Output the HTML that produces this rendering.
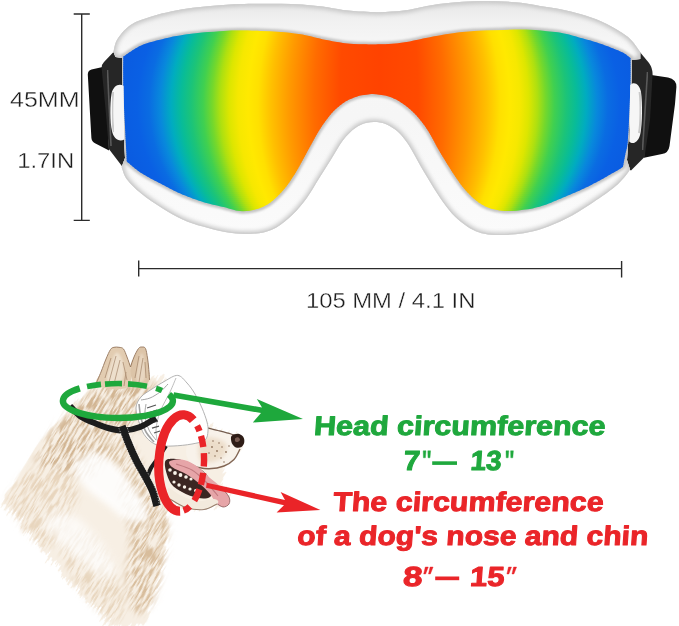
<!DOCTYPE html>
<html>
<head>
<meta charset="utf-8">
<title>Dog goggles size</title>
<style>
  html, body { margin: 0; padding: 0; background: #ffffff; }
  body { width: 679px; height: 626px; overflow: hidden; font-family: "Liberation Sans", sans-serif; }
  svg { display: block; }
  .thin { font-family: "Liberation Sans", sans-serif; fill: #1c1c1c; stroke: #ffffff; stroke-width: 0.34px; }
  .bold { font-family: "Liberation Sans", sans-serif; font-weight: bold; }
</style>
</head>
<body>
<svg width="679" height="626" viewBox="0 0 679 626">
  <defs>
    <linearGradient id="lens" gradientUnits="userSpaceOnUse" x1="-268" y1="0" x2="268" y2="0">
      <stop offset="0.0000" stop-color="#0a5ae0"/>
      <stop offset="0.0485" stop-color="#0a60e4"/>
      <stop offset="0.0709" stop-color="#0a6ce2"/>
      <stop offset="0.0914" stop-color="#0888dc"/>
      <stop offset="0.1119" stop-color="#00acc0"/>
      <stop offset="0.1306" stop-color="#08bc98"/>
      <stop offset="0.1493" stop-color="#1cc478"/>
      <stop offset="0.1716" stop-color="#40d050"/>
      <stop offset="0.1884" stop-color="#74d82c"/>
      <stop offset="0.2034" stop-color="#aee010"/>
      <stop offset="0.2201" stop-color="#dde600"/>
      <stop offset="0.2369" stop-color="#f6e800"/>
      <stop offset="0.2556" stop-color="#ffe900"/>
      <stop offset="0.2743" stop-color="#ffe000"/>
      <stop offset="0.2985" stop-color="#ffc000"/>
      <stop offset="0.3321" stop-color="#ff9a00"/>
      <stop offset="0.3787" stop-color="#ff6c00"/>
      <stop offset="0.4272" stop-color="#ff4a00"/>
      <stop offset="0.5000" stop-color="#ff4300"/>
      <stop offset="0.5728" stop-color="#ff4a00"/>
      <stop offset="0.6213" stop-color="#ff6c00"/>
      <stop offset="0.6679" stop-color="#ff9a00"/>
      <stop offset="0.7015" stop-color="#ffc000"/>
      <stop offset="0.7257" stop-color="#ffe000"/>
      <stop offset="0.7444" stop-color="#ffe900"/>
      <stop offset="0.7629" stop-color="#f6e800"/>
      <stop offset="0.7795" stop-color="#dde600"/>
      <stop offset="0.7961" stop-color="#aee010"/>
      <stop offset="0.8109" stop-color="#74d82c"/>
      <stop offset="0.8275" stop-color="#40d050"/>
      <stop offset="0.8497" stop-color="#1cc478"/>
      <stop offset="0.8681" stop-color="#08bc98"/>
      <stop offset="0.8866" stop-color="#00acc0"/>
      <stop offset="0.9069" stop-color="#0888dc"/>
      <stop offset="0.9272" stop-color="#0a6ce2"/>
      <stop offset="0.9494" stop-color="#0a60e4"/>
      <stop offset="1.0000" stop-color="#0a5ae0"/>
    </linearGradient>
    <linearGradient id="frameFill" gradientUnits="userSpaceOnUse" x1="0" y1="0" x2="0" y2="235">
      <stop offset="0" stop-color="#e6e6e6"/>
      <stop offset="0.09" stop-color="#f1f1f1"/>
      <stop offset="0.2" stop-color="#f7f7f7"/>
      <stop offset="0.5" stop-color="#f6f6f6"/>
      <stop offset="1" stop-color="#fbfbfb"/>
    </linearGradient>
    <clipPath id="lensClip"><path d="M123.3 56.5 C126.2 54.6 134.6 48.3 141.0 45.4 C147.4 42.5 155.1 40.9 162.0 39.2 C168.9 37.5 175.7 36.1 182.5 35.0 C189.3 33.9 196.1 33.3 203.0 32.6 C209.9 31.9 217.5 31.4 223.7 31.0 C229.9 30.6 233.8 30.5 240.0 30.5 C246.2 30.5 253.8 30.8 260.6 31.0 C267.4 31.2 274.1 31.4 281.0 32.0 C287.9 32.6 295.1 33.4 302.0 34.6 C308.9 35.8 315.7 37.8 322.5 39.2 C329.3 40.6 336.1 42.0 343.0 42.9 C349.9 43.8 357.5 44.1 363.7 44.3 C369.9 44.5 373.4 44.6 380.0 44.3 C386.6 44.0 395.8 43.5 403.6 42.4 C411.4 41.3 419.1 39.2 427.0 37.7 C434.9 36.2 442.9 34.6 450.7 33.5 C458.5 32.4 466.1 31.7 474.0 31.1 C481.9 30.6 490.0 30.5 497.8 30.2 C505.6 29.9 514.0 29.4 521.0 29.5 C528.0 29.6 533.4 29.9 540.0 30.5 C546.6 31.1 553.7 31.6 560.5 32.8 C567.3 34.0 574.2 36.0 581.0 37.9 C587.8 39.8 594.6 41.6 601.4 44.0 C608.2 46.4 617.1 49.9 622.0 52.2 C626.9 54.5 629.1 57.0 630.5 58.0 C630.5 61.7 630.7 71.3 630.5 80.0 C630.3 88.7 630.0 99.7 629.5 110.0 C629.0 120.3 628.4 134.7 627.7 142.0 C627.0 149.3 626.2 149.9 625.4 154.0 C624.6 158.1 623.4 164.6 623.0 166.7 C621.5 167.7 619.2 169.5 613.7 172.6 C608.2 175.7 598.1 181.6 590.3 185.5 C582.5 189.4 574.6 192.7 566.8 196.0 C559.0 199.3 550.6 203.1 543.4 205.4 C536.2 207.7 530.2 208.9 523.7 209.8 C517.2 210.7 510.6 211.4 504.6 211.0 C498.6 210.6 492.6 209.2 487.8 207.4 C483.0 205.6 479.8 203.4 475.8 200.2 C471.8 197.0 467.8 193.0 463.8 188.2 C459.8 183.4 455.9 177.4 451.9 171.4 C447.9 165.4 444.0 159.1 440.0 152.3 C436.0 145.5 432.0 136.9 428.0 130.7 C424.0 124.5 420.0 119.4 416.0 115.0 C412.0 110.6 408.0 107.3 404.0 104.4 C400.0 101.5 396.0 99.3 392.0 97.7 C388.0 96.1 383.8 95.4 380.0 94.8 C376.2 94.2 373.5 93.9 369.3 94.3 C365.1 94.7 359.4 95.7 355.0 97.2 C350.6 98.7 347.0 100.4 343.0 103.2 C339.0 106.0 335.0 109.4 331.0 114.0 C327.0 118.6 323.0 124.3 319.0 130.7 C315.0 137.1 311.0 145.1 307.0 152.3 C303.0 159.5 299.0 167.4 295.0 173.8 C291.0 180.2 287.4 185.6 283.0 190.6 C278.6 195.6 273.5 200.6 268.7 203.8 C263.9 207.0 259.2 208.6 254.4 209.8 C249.6 211.0 245.1 211.5 240.0 211.0 C234.9 210.5 229.9 208.5 223.7 207.0 C217.5 205.5 209.9 204.0 203.0 201.9 C196.1 199.8 189.3 197.5 182.5 194.6 C175.7 191.7 168.8 187.9 161.9 184.3 C155.0 180.7 147.0 176.8 141.2 173.0 C135.3 169.2 129.2 163.5 126.8 161.6 C126.7 160.2 126.8 161.3 126.4 153.0 C126.0 144.7 124.8 123.3 124.3 112.0 C123.8 100.7 123.5 94.2 123.3 85.0 C123.1 75.8 123.3 61.2 123.3 56.5 Z"/></clipPath>
    <clipPath id="frameClip"><path d="M113.4 52.0 C114.1 49.8 114.6 43.5 117.5 39.0 C120.4 34.5 125.3 28.4 131.0 24.7 C136.7 20.9 144.7 18.7 151.5 16.5 C158.3 14.3 165.1 12.8 172.0 11.3 C178.9 9.9 185.9 8.7 192.8 7.8 C199.7 6.9 205.5 6.4 213.4 5.8 C221.3 5.2 232.1 4.4 240.0 4.1 C247.9 3.7 253.8 3.8 260.6 3.7 C267.4 3.6 274.1 3.6 281.0 3.7 C287.9 3.8 295.1 4.0 302.0 4.5 C308.9 5.0 315.7 5.7 322.5 6.6 C329.3 7.5 336.1 9.1 343.0 9.9 C349.9 10.7 357.5 11.2 363.7 11.6 C369.9 12.0 373.4 12.4 380.0 12.2 C386.6 12.0 395.8 11.6 403.6 10.6 C411.4 9.6 419.1 7.2 427.0 5.9 C434.9 4.6 442.9 3.6 450.7 2.8 C458.5 2.0 466.1 1.5 474.0 1.2 C481.9 0.9 490.0 0.9 497.8 1.2 C505.6 1.5 514.0 2.0 521.0 2.8 C528.0 3.6 533.4 4.9 540.0 6.0 C546.6 7.1 553.7 7.8 560.5 9.2 C567.3 10.6 574.2 12.2 581.0 14.3 C587.8 16.4 594.6 18.4 601.4 21.5 C608.2 24.6 616.9 29.5 622.0 32.8 C627.1 36.0 629.0 37.8 632.0 41.0 C635.0 44.2 638.9 50.3 640.3 52.2 L640.3 59 L632 60 L631 100 L627 160 L630.0 169.5 C629.2 170.6 628.1 172.9 625.4 176.0 C622.7 179.1 619.6 183.1 613.7 187.8 C607.9 192.5 598.1 199.1 590.3 204.2 C582.5 209.3 574.6 214.3 566.8 218.3 C559.0 222.3 550.6 225.8 543.4 228.3 C536.2 230.8 530.2 232.1 523.7 233.2 C517.2 234.3 510.6 234.8 504.6 235.0 C498.6 235.2 492.6 235.0 487.8 234.4 C483.0 233.8 479.8 233.0 475.8 231.3 C471.8 229.6 467.8 227.0 463.8 224.0 C459.8 221.0 455.9 217.8 451.9 213.4 C447.9 209.0 444.0 203.6 440.0 197.8 C436.0 192.0 431.6 184.6 428.0 178.6 C424.4 172.6 421.5 167.5 418.3 161.9 C415.1 156.3 411.9 149.8 408.7 145.0 C405.5 140.2 402.4 136.2 399.2 133.0 C396.0 129.8 392.8 127.8 389.6 126.0 C386.4 124.2 383.8 123.0 380.0 122.5 C376.2 122.0 371.2 121.8 367.0 122.8 C362.8 123.8 359.0 125.4 355.0 128.3 C351.0 131.2 347.0 135.1 343.0 140.3 C339.0 145.5 335.0 153.1 331.0 159.5 C327.0 165.9 323.0 172.2 319.0 178.6 C315.0 185.0 311.4 191.8 307.0 197.8 C302.6 203.8 297.9 209.6 292.7 214.6 C287.5 219.6 281.6 224.6 276.0 227.7 C270.4 230.8 265.2 232.2 259.2 233.2 C253.2 234.2 245.9 233.9 240.0 233.7 C234.1 233.5 229.9 233.0 223.7 231.8 C217.5 230.6 209.9 228.7 203.0 226.6 C196.1 224.5 189.3 222.5 182.5 219.4 C175.7 216.3 168.8 212.3 161.9 208.0 C155.0 203.7 147.0 198.4 141.2 193.6 C135.3 188.8 130.1 183.6 126.8 179.2 C123.5 174.8 122.5 169.0 121.6 167.0 L125 158 L122 100 L122 58 L115.5 57 Z"/></clipPath>
    <filter id="b05" x="-5%" y="-5%" width="110%" height="110%"><feGaussianBlur stdDeviation="0.5"/></filter>
    <filter id="b1" x="-5%" y="-5%" width="110%" height="110%"><feGaussianBlur stdDeviation="1"/></filter>
    <filter id="b2" x="-10%" y="-10%" width="120%" height="120%"><feGaussianBlur stdDeviation="2"/></filter>
    <filter id="b3" x="-10%" y="-10%" width="120%" height="120%"><feGaussianBlur stdDeviation="3"/></filter>
    <filter id="b4" x="-20%" y="-20%" width="140%" height="140%"><feGaussianBlur stdDeviation="4"/></filter>
    <filter id="fur" x="-10%" y="-10%" width="120%" height="120%">
      <feTurbulence type="fractalNoise" baseFrequency="0.16 0.10" numOctaves="3" seed="4" result="n"/>
      <feDisplacementMap in="SourceGraphic" in2="n" scale="9" xChannelSelector="R" yChannelSelector="G" result="d"/>
      <feGaussianBlur in="d" stdDeviation="0.9" result="db"/>
      <feTurbulence type="fractalNoise" baseFrequency="0.30 0.12" numOctaves="2" seed="9" result="n2"/>
      <feColorMatrix in="n2" type="matrix" values="0 0 0 0 1  0 0 0 0 1  0 0 0 0 1  0 0 0 3.2 -1.45" result="w"/>
      <feComposite in="w" in2="db" operator="in" result="wi"/>
      <feMerge><feMergeNode in="db"/><feMergeNode in="wi"/></feMerge>
    </filter>
    <filter id="furd" x="-20%" y="-20%" width="140%" height="140%">
      <feTurbulence type="fractalNoise" baseFrequency="0.16 0.10" numOctaves="3" seed="7" result="n"/>
      <feDisplacementMap in="SourceGraphic" in2="n" scale="10" xChannelSelector="R" yChannelSelector="G" result="d"/>
      <feGaussianBlur in="d" stdDeviation="1.8" result="db"/>
      <feTurbulence type="fractalNoise" baseFrequency="0.35 0.14" numOctaves="2" seed="3" result="n2"/>
      <feColorMatrix in="n2" type="matrix" values="0 0 0 0 0  0 0 0 0 0  0 0 0 0 0  0 0 0 2.6 -0.7" result="m"/>
      <feComposite in="db" in2="m" operator="in"/>
    </filter>
    <filter id="wisp" x="-10%" y="-10%" width="120%" height="120%">
      <feTurbulence type="fractalNoise" baseFrequency="0.035 0.4" numOctaves="2" seed="11" result="n"/>
      <feColorMatrix in="n" type="matrix" values="1.6 0 0 0 -0.3  0 0 0 0 0.5  0 0 0 0 0  0 0 0 0 1" result="nx"/>
      <feDisplacementMap in="SourceGraphic" in2="nx" scale="15" xChannelSelector="R" yChannelSelector="G" result="d"/>
      <feGaussianBlur in="d" stdDeviation="0.7"/>
    </filter>
    <filter id="streak" x="-10%" y="-10%" width="120%" height="120%">
      <feTurbulence type="fractalNoise" baseFrequency="0.06 0.5" numOctaves="2" seed="5" result="n"/>
      <feColorMatrix in="n" type="matrix" values="0 0 0 0 0  0 0 0 0 0  0 0 0 0 0  0 0 0 5 -2.1" result="m"/>
      <feGaussianBlur in="SourceGraphic" stdDeviation="3.5" result="sb"/>
      <feComposite in="sb" in2="m" operator="in"/>
    </filter>
    <filter id="b8" x="-20%" y="-20%" width="140%" height="140%"><feGaussianBlur stdDeviation="7"/></filter>
  </defs>

  <rect x="0" y="0" width="679" height="626" fill="#ffffff"/>

  <!-- ================= GOGGLES ================= -->
  <g id="goggles">
    <!-- straps -->
    <path d="M87.8 74.5 Q87.8 70.3 91.5 69.4 L106 66.3 L109 150.5 L95.5 143.5 Q91.7 141.8 91.4 138 Z" fill="#101010"/>
    <path d="M648 74.6 L668 77.6 Q676.6 79.5 676.4 87 L675 104 L669.5 146 Q668.5 153 662 154 L644 157.8 Z" fill="#101010"/>
    <!-- dark side frame -->
    <path d="M114 51.5 L104 62 Q101.5 64.5 101.6 68 L105.8 112 L108.9 149 L123 167.5 L131 162 L126 56 Z" fill="#262626"/>
    <path d="M639.5 51.5 L649 63 Q652.5 68 652.6 74 L650 120 L644.5 157 L631 170.5 L620 164 L628 56 Z" fill="#262626"/>
    <path d="M107.5 70 L111 146" stroke="#5a5a5a" stroke-width="1.6" fill="none" filter="url(#b05)"/>
    <path d="M647.5 72 L642.5 150" stroke="#5a5a5a" stroke-width="1.6" fill="none" filter="url(#b05)"/>
    <!-- white frame -->
    <path fill="url(#frameFill)" d="M113.4 52.0 C114.1 49.8 114.6 43.5 117.5 39.0 C120.4 34.5 125.3 28.4 131.0 24.7 C136.7 20.9 144.7 18.7 151.5 16.5 C158.3 14.3 165.1 12.8 172.0 11.3 C178.9 9.9 185.9 8.7 192.8 7.8 C199.7 6.9 205.5 6.4 213.4 5.8 C221.3 5.2 232.1 4.4 240.0 4.1 C247.9 3.7 253.8 3.8 260.6 3.7 C267.4 3.6 274.1 3.6 281.0 3.7 C287.9 3.8 295.1 4.0 302.0 4.5 C308.9 5.0 315.7 5.7 322.5 6.6 C329.3 7.5 336.1 9.1 343.0 9.9 C349.9 10.7 357.5 11.2 363.7 11.6 C369.9 12.0 373.4 12.4 380.0 12.2 C386.6 12.0 395.8 11.6 403.6 10.6 C411.4 9.6 419.1 7.2 427.0 5.9 C434.9 4.6 442.9 3.6 450.7 2.8 C458.5 2.0 466.1 1.5 474.0 1.2 C481.9 0.9 490.0 0.9 497.8 1.2 C505.6 1.5 514.0 2.0 521.0 2.8 C528.0 3.6 533.4 4.9 540.0 6.0 C546.6 7.1 553.7 7.8 560.5 9.2 C567.3 10.6 574.2 12.2 581.0 14.3 C587.8 16.4 594.6 18.4 601.4 21.5 C608.2 24.6 616.9 29.5 622.0 32.8 C627.1 36.0 629.0 37.8 632.0 41.0 C635.0 44.2 638.9 50.3 640.3 52.2 L640.3 59 L632 60 L631 100 L627 160 L630.0 169.5 C629.2 170.6 628.1 172.9 625.4 176.0 C622.7 179.1 619.6 183.1 613.7 187.8 C607.9 192.5 598.1 199.1 590.3 204.2 C582.5 209.3 574.6 214.3 566.8 218.3 C559.0 222.3 550.6 225.8 543.4 228.3 C536.2 230.8 530.2 232.1 523.7 233.2 C517.2 234.3 510.6 234.8 504.6 235.0 C498.6 235.2 492.6 235.0 487.8 234.4 C483.0 233.8 479.8 233.0 475.8 231.3 C471.8 229.6 467.8 227.0 463.8 224.0 C459.8 221.0 455.9 217.8 451.9 213.4 C447.9 209.0 444.0 203.6 440.0 197.8 C436.0 192.0 431.6 184.6 428.0 178.6 C424.4 172.6 421.5 167.5 418.3 161.9 C415.1 156.3 411.9 149.8 408.7 145.0 C405.5 140.2 402.4 136.2 399.2 133.0 C396.0 129.8 392.8 127.8 389.6 126.0 C386.4 124.2 383.8 123.0 380.0 122.5 C376.2 122.0 371.2 121.8 367.0 122.8 C362.8 123.8 359.0 125.4 355.0 128.3 C351.0 131.2 347.0 135.1 343.0 140.3 C339.0 145.5 335.0 153.1 331.0 159.5 C327.0 165.9 323.0 172.2 319.0 178.6 C315.0 185.0 311.4 191.8 307.0 197.8 C302.6 203.8 297.9 209.6 292.7 214.6 C287.5 219.6 281.6 224.6 276.0 227.7 C270.4 230.8 265.2 232.2 259.2 233.2 C253.2 234.2 245.9 233.9 240.0 233.7 C234.1 233.5 229.9 233.0 223.7 231.8 C217.5 230.6 209.9 228.7 203.0 226.6 C196.1 224.5 189.3 222.5 182.5 219.4 C175.7 216.3 168.8 212.3 161.9 208.0 C155.0 203.7 147.0 198.4 141.2 193.6 C135.3 188.8 130.1 183.6 126.8 179.2 C123.5 174.8 122.5 169.0 121.6 167.0 L125 158 L122 100 L122 58 L115.5 57 Z"/>
    <g clip-path="url(#frameClip)">
      <path d="M113.4 52.0 C114.1 49.8 114.6 43.5 117.5 39.0 C120.4 34.5 125.3 28.4 131.0 24.7 C136.7 20.9 144.7 18.7 151.5 16.5 C158.3 14.3 165.1 12.8 172.0 11.3 C178.9 9.9 185.9 8.7 192.8 7.8 C199.7 6.9 205.5 6.4 213.4 5.8 C221.3 5.2 232.1 4.4 240.0 4.1 C247.9 3.7 253.8 3.8 260.6 3.7 C267.4 3.6 274.1 3.6 281.0 3.7 C287.9 3.8 295.1 4.0 302.0 4.5 C308.9 5.0 315.7 5.7 322.5 6.6 C329.3 7.5 336.1 9.1 343.0 9.9 C349.9 10.7 357.5 11.2 363.7 11.6 C369.9 12.0 373.4 12.4 380.0 12.2 C386.6 12.0 395.8 11.6 403.6 10.6 C411.4 9.6 419.1 7.2 427.0 5.9 C434.9 4.6 442.9 3.6 450.7 2.8 C458.5 2.0 466.1 1.5 474.0 1.2 C481.9 0.9 490.0 0.9 497.8 1.2 C505.6 1.5 514.0 2.0 521.0 2.8 C528.0 3.6 533.4 4.9 540.0 6.0 C546.6 7.1 553.7 7.8 560.5 9.2 C567.3 10.6 574.2 12.2 581.0 14.3 C587.8 16.4 594.6 18.4 601.4 21.5 C608.2 24.6 616.9 29.5 622.0 32.8 C627.1 36.0 629.0 37.8 632.0 41.0 C635.0 44.2 638.9 50.3 640.3 52.2 L640.3 59 L632 60 L631 100 L627 160 L630.0 169.5 C629.2 170.6 628.1 172.9 625.4 176.0 C622.7 179.1 619.6 183.1 613.7 187.8 C607.9 192.5 598.1 199.1 590.3 204.2 C582.5 209.3 574.6 214.3 566.8 218.3 C559.0 222.3 550.6 225.8 543.4 228.3 C536.2 230.8 530.2 232.1 523.7 233.2 C517.2 234.3 510.6 234.8 504.6 235.0 C498.6 235.2 492.6 235.0 487.8 234.4 C483.0 233.8 479.8 233.0 475.8 231.3 C471.8 229.6 467.8 227.0 463.8 224.0 C459.8 221.0 455.9 217.8 451.9 213.4 C447.9 209.0 444.0 203.6 440.0 197.8 C436.0 192.0 431.6 184.6 428.0 178.6 C424.4 172.6 421.5 167.5 418.3 161.9 C415.1 156.3 411.9 149.8 408.7 145.0 C405.5 140.2 402.4 136.2 399.2 133.0 C396.0 129.8 392.8 127.8 389.6 126.0 C386.4 124.2 383.8 123.0 380.0 122.5 C376.2 122.0 371.2 121.8 367.0 122.8 C362.8 123.8 359.0 125.4 355.0 128.3 C351.0 131.2 347.0 135.1 343.0 140.3 C339.0 145.5 335.0 153.1 331.0 159.5 C327.0 165.9 323.0 172.2 319.0 178.6 C315.0 185.0 311.4 191.8 307.0 197.8 C302.6 203.8 297.9 209.6 292.7 214.6 C287.5 219.6 281.6 224.6 276.0 227.7 C270.4 230.8 265.2 232.2 259.2 233.2 C253.2 234.2 245.9 233.9 240.0 233.7 C234.1 233.5 229.9 233.0 223.7 231.8 C217.5 230.6 209.9 228.7 203.0 226.6 C196.1 224.5 189.3 222.5 182.5 219.4 C175.7 216.3 168.8 212.3 161.9 208.0 C155.0 203.7 147.0 198.4 141.2 193.6 C135.3 188.8 130.1 183.6 126.8 179.2 C123.5 174.8 122.5 169.0 121.6 167.0 L125 158 L122 100 L122 58 L115.5 57 Z" fill="none" stroke="#c6c6c6" stroke-width="5" filter="url(#b2)"/>
      <path d="M113.4 52.0 C114.1 49.8 114.6 43.5 117.5 39.0 C120.4 34.5 125.3 28.4 131.0 24.7 C136.7 20.9 144.7 18.7 151.5 16.5 C158.3 14.3 165.1 12.8 172.0 11.3 C178.9 9.9 185.9 8.7 192.8 7.8 C199.7 6.9 205.5 6.4 213.4 5.8 C221.3 5.2 232.1 4.4 240.0 4.1 C247.9 3.7 253.8 3.8 260.6 3.7 C267.4 3.6 274.1 3.6 281.0 3.7 C287.9 3.8 295.1 4.0 302.0 4.5 C308.9 5.0 315.7 5.7 322.5 6.6 C329.3 7.5 336.1 9.1 343.0 9.9 C349.9 10.7 357.5 11.2 363.7 11.6 C369.9 12.0 373.4 12.4 380.0 12.2 C386.6 12.0 395.8 11.6 403.6 10.6 C411.4 9.6 419.1 7.2 427.0 5.9 C434.9 4.6 442.9 3.6 450.7 2.8 C458.5 2.0 466.1 1.5 474.0 1.2 C481.9 0.9 490.0 0.9 497.8 1.2 C505.6 1.5 514.0 2.0 521.0 2.8 C528.0 3.6 533.4 4.9 540.0 6.0 C546.6 7.1 553.7 7.8 560.5 9.2 C567.3 10.6 574.2 12.2 581.0 14.3 C587.8 16.4 594.6 18.4 601.4 21.5 C608.2 24.6 616.9 29.5 622.0 32.8 C627.1 36.0 629.0 37.8 632.0 41.0 C635.0 44.2 638.9 50.3 640.3 52.2 L640.3 59 L632 60 L631 100 L627 160 L630.0 169.5 C629.2 170.6 628.1 172.9 625.4 176.0 C622.7 179.1 619.6 183.1 613.7 187.8 C607.9 192.5 598.1 199.1 590.3 204.2 C582.5 209.3 574.6 214.3 566.8 218.3 C559.0 222.3 550.6 225.8 543.4 228.3 C536.2 230.8 530.2 232.1 523.7 233.2 C517.2 234.3 510.6 234.8 504.6 235.0 C498.6 235.2 492.6 235.0 487.8 234.4 C483.0 233.8 479.8 233.0 475.8 231.3 C471.8 229.6 467.8 227.0 463.8 224.0 C459.8 221.0 455.9 217.8 451.9 213.4 C447.9 209.0 444.0 203.6 440.0 197.8 C436.0 192.0 431.6 184.6 428.0 178.6 C424.4 172.6 421.5 167.5 418.3 161.9 C415.1 156.3 411.9 149.8 408.7 145.0 C405.5 140.2 402.4 136.2 399.2 133.0 C396.0 129.8 392.8 127.8 389.6 126.0 C386.4 124.2 383.8 123.0 380.0 122.5 C376.2 122.0 371.2 121.8 367.0 122.8 C362.8 123.8 359.0 125.4 355.0 128.3 C351.0 131.2 347.0 135.1 343.0 140.3 C339.0 145.5 335.0 153.1 331.0 159.5 C327.0 165.9 323.0 172.2 319.0 178.6 C315.0 185.0 311.4 191.8 307.0 197.8 C302.6 203.8 297.9 209.6 292.7 214.6 C287.5 219.6 281.6 224.6 276.0 227.7 C270.4 230.8 265.2 232.2 259.2 233.2 C253.2 234.2 245.9 233.9 240.0 233.7 C234.1 233.5 229.9 233.0 223.7 231.8 C217.5 230.6 209.9 228.7 203.0 226.6 C196.1 224.5 189.3 222.5 182.5 219.4 C175.7 216.3 168.8 212.3 161.9 208.0 C155.0 203.7 147.0 198.4 141.2 193.6 C135.3 188.8 130.1 183.6 126.8 179.2 C123.5 174.8 122.5 169.0 121.6 167.0 L125 158 L122 100 L122 58 L115.5 57 Z" fill="none" stroke="#cfcfcf" stroke-width="2.2" filter="url(#b05)"/>
      <path d="M123.3 56.5 C126.2 54.6 134.6 48.3 141.0 45.4 C147.4 42.5 155.1 40.9 162.0 39.2 C168.9 37.5 175.7 36.1 182.5 35.0 C189.3 33.9 196.1 33.3 203.0 32.6 C209.9 31.9 217.5 31.4 223.7 31.0 C229.9 30.6 233.8 30.5 240.0 30.5 C246.2 30.5 253.8 30.8 260.6 31.0 C267.4 31.2 274.1 31.4 281.0 32.0 C287.9 32.6 295.1 33.4 302.0 34.6 C308.9 35.8 315.7 37.8 322.5 39.2 C329.3 40.6 336.1 42.0 343.0 42.9 C349.9 43.8 357.5 44.1 363.7 44.3 C369.9 44.5 373.4 44.6 380.0 44.3 C386.6 44.0 395.8 43.5 403.6 42.4 C411.4 41.3 419.1 39.2 427.0 37.7 C434.9 36.2 442.9 34.6 450.7 33.5 C458.5 32.4 466.1 31.7 474.0 31.1 C481.9 30.6 490.0 30.5 497.8 30.2 C505.6 29.9 514.0 29.4 521.0 29.5 C528.0 29.6 533.4 29.9 540.0 30.5 C546.6 31.1 553.7 31.6 560.5 32.8 C567.3 34.0 574.2 36.0 581.0 37.9 C587.8 39.8 594.6 41.6 601.4 44.0 C608.2 46.4 617.1 49.9 622.0 52.2 C626.9 54.5 629.1 57.0 630.5 58.0 C630.5 61.7 630.7 71.3 630.5 80.0 C630.3 88.7 630.0 99.7 629.5 110.0 C629.0 120.3 628.4 134.7 627.7 142.0 C627.0 149.3 626.2 149.9 625.4 154.0 C624.6 158.1 623.4 164.6 623.0 166.7 C621.5 167.7 619.2 169.5 613.7 172.6 C608.2 175.7 598.1 181.6 590.3 185.5 C582.5 189.4 574.6 192.7 566.8 196.0 C559.0 199.3 550.6 203.1 543.4 205.4 C536.2 207.7 530.2 208.9 523.7 209.8 C517.2 210.7 510.6 211.4 504.6 211.0 C498.6 210.6 492.6 209.2 487.8 207.4 C483.0 205.6 479.8 203.4 475.8 200.2 C471.8 197.0 467.8 193.0 463.8 188.2 C459.8 183.4 455.9 177.4 451.9 171.4 C447.9 165.4 444.0 159.1 440.0 152.3 C436.0 145.5 432.0 136.9 428.0 130.7 C424.0 124.5 420.0 119.4 416.0 115.0 C412.0 110.6 408.0 107.3 404.0 104.4 C400.0 101.5 396.0 99.3 392.0 97.7 C388.0 96.1 383.8 95.4 380.0 94.8 C376.2 94.2 373.5 93.9 369.3 94.3 C365.1 94.7 359.4 95.7 355.0 97.2 C350.6 98.7 347.0 100.4 343.0 103.2 C339.0 106.0 335.0 109.4 331.0 114.0 C327.0 118.6 323.0 124.3 319.0 130.7 C315.0 137.1 311.0 145.1 307.0 152.3 C303.0 159.5 299.0 167.4 295.0 173.8 C291.0 180.2 287.4 185.6 283.0 190.6 C278.6 195.6 273.5 200.6 268.7 203.8 C263.9 207.0 259.2 208.6 254.4 209.8 C249.6 211.0 245.1 211.5 240.0 211.0 C234.9 210.5 229.9 208.5 223.7 207.0 C217.5 205.5 209.9 204.0 203.0 201.9 C196.1 199.8 189.3 197.5 182.5 194.6 C175.7 191.7 168.8 187.9 161.9 184.3 C155.0 180.7 147.0 176.8 141.2 173.0 C135.3 169.2 129.2 163.5 126.8 161.6 C126.7 160.2 126.8 161.3 126.4 153.0 C126.0 144.7 124.8 123.3 124.3 112.0 C123.8 100.7 123.5 94.2 123.3 85.0 C123.1 75.8 123.3 61.2 123.3 56.5 Z" fill="none" stroke="#c4c4c4" stroke-width="5" filter="url(#b1)"/>
    </g>
    <!-- lens -->
    <g clip-path="url(#lensClip)" fill="url(#lens)">
      <rect x="-330" y="22" width="660" height="2.6" transform="translate(379 0) scale(0.8991 1)"/>
      <rect x="-330" y="24" width="660" height="2.6" transform="translate(379 0) scale(0.9042 1)"/>
      <rect x="-330" y="26" width="660" height="2.6" transform="translate(379 0) scale(0.9093 1)"/>
      <rect x="-330" y="28" width="660" height="2.6" transform="translate(379 0) scale(0.9141 1)"/>
      <rect x="-330" y="30" width="660" height="2.6" transform="translate(379 0) scale(0.9189 1)"/>
      <rect x="-330" y="32" width="660" height="2.6" transform="translate(379 0) scale(0.9234 1)"/>
      <rect x="-330" y="34" width="660" height="2.6" transform="translate(379 0) scale(0.9278 1)"/>
      <rect x="-330" y="36" width="660" height="2.6" transform="translate(379 0) scale(0.9321 1)"/>
      <rect x="-330" y="38" width="660" height="2.6" transform="translate(379 0) scale(0.9362 1)"/>
      <rect x="-330" y="40" width="660" height="2.6" transform="translate(379 0) scale(0.9402 1)"/>
      <rect x="-330" y="42" width="660" height="2.6" transform="translate(379 0) scale(0.9441 1)"/>
      <rect x="-330" y="44" width="660" height="2.6" transform="translate(379 0) scale(0.9478 1)"/>
      <rect x="-330" y="46" width="660" height="2.6" transform="translate(379 0) scale(0.9514 1)"/>
      <rect x="-330" y="48" width="660" height="2.6" transform="translate(379 0) scale(0.9548 1)"/>
      <rect x="-330" y="50" width="660" height="2.6" transform="translate(379 0) scale(0.9581 1)"/>
      <rect x="-330" y="52" width="660" height="2.6" transform="translate(379 0) scale(0.9613 1)"/>
      <rect x="-330" y="54" width="660" height="2.6" transform="translate(379 0) scale(0.9643 1)"/>
      <rect x="-330" y="56" width="660" height="2.6" transform="translate(379 0) scale(0.9672 1)"/>
      <rect x="-330" y="58" width="660" height="2.6" transform="translate(379 0) scale(0.9700 1)"/>
      <rect x="-330" y="60" width="660" height="2.6" transform="translate(379 0) scale(0.9726 1)"/>
      <rect x="-330" y="62" width="660" height="2.6" transform="translate(379 0) scale(0.9751 1)"/>
      <rect x="-330" y="64" width="660" height="2.6" transform="translate(379 0) scale(0.9775 1)"/>
      <rect x="-330" y="66" width="660" height="2.6" transform="translate(379 0) scale(0.9798 1)"/>
      <rect x="-330" y="68" width="660" height="2.6" transform="translate(379 0) scale(0.9819 1)"/>
      <rect x="-330" y="70" width="660" height="2.6" transform="translate(379 0) scale(0.9840 1)"/>
      <rect x="-330" y="72" width="660" height="2.6" transform="translate(379 0) scale(0.9859 1)"/>
      <rect x="-330" y="74" width="660" height="2.6" transform="translate(379 0) scale(0.9876 1)"/>
      <rect x="-330" y="76" width="660" height="2.6" transform="translate(379 0) scale(0.9893 1)"/>
      <rect x="-330" y="78" width="660" height="2.6" transform="translate(379 0) scale(0.9908 1)"/>
      <rect x="-330" y="80" width="660" height="2.6" transform="translate(379 0) scale(0.9922 1)"/>
      <rect x="-330" y="82" width="660" height="2.6" transform="translate(379 0) scale(0.9935 1)"/>
      <rect x="-330" y="84" width="660" height="2.6" transform="translate(379 0) scale(0.9947 1)"/>
      <rect x="-330" y="86" width="660" height="2.6" transform="translate(379 0) scale(0.9958 1)"/>
      <rect x="-330" y="88" width="660" height="2.6" transform="translate(379 0) scale(0.9967 1)"/>
      <rect x="-330" y="90" width="660" height="2.6" transform="translate(379 0) scale(0.9975 1)"/>
      <rect x="-330" y="92" width="660" height="2.6" transform="translate(379 0) scale(0.9982 1)"/>
      <rect x="-330" y="94" width="660" height="2.6" transform="translate(379 0) scale(0.9988 1)"/>
      <rect x="-330" y="96" width="660" height="2.6" transform="translate(379 0) scale(0.9993 1)"/>
      <rect x="-330" y="98" width="660" height="2.6" transform="translate(379 0) scale(0.9996 1)"/>
      <rect x="-330" y="100" width="660" height="2.6" transform="translate(379 0) scale(0.9999 1)"/>
      <rect x="-330" y="102" width="660" height="2.6" transform="translate(379 0) scale(1.0000 1)"/>
      <rect x="-330" y="104" width="660" height="2.6" transform="translate(379 0) scale(1.0000 1)"/>
      <rect x="-330" y="106" width="660" height="2.6" transform="translate(379 0) scale(0.9999 1)"/>
      <rect x="-330" y="108" width="660" height="2.6" transform="translate(379 0) scale(0.9996 1)"/>
      <rect x="-330" y="110" width="660" height="2.6" transform="translate(379 0) scale(0.9993 1)"/>
      <rect x="-330" y="112" width="660" height="2.6" transform="translate(379 0) scale(0.9988 1)"/>
      <rect x="-330" y="114" width="660" height="2.6" transform="translate(379 0) scale(0.9982 1)"/>
      <rect x="-330" y="116" width="660" height="2.6" transform="translate(379 0) scale(0.9975 1)"/>
      <rect x="-330" y="118" width="660" height="2.6" transform="translate(379 0) scale(0.9967 1)"/>
      <rect x="-330" y="120" width="660" height="2.6" transform="translate(379 0) scale(0.9958 1)"/>
      <rect x="-330" y="122" width="660" height="2.6" transform="translate(379 0) scale(0.9947 1)"/>
      <rect x="-330" y="124" width="660" height="2.6" transform="translate(379 0) scale(0.9935 1)"/>
      <rect x="-330" y="126" width="660" height="2.6" transform="translate(379 0) scale(0.9922 1)"/>
      <rect x="-330" y="128" width="660" height="2.6" transform="translate(379 0) scale(0.9908 1)"/>
      <rect x="-330" y="130" width="660" height="2.6" transform="translate(379 0) scale(0.9893 1)"/>
      <rect x="-330" y="132" width="660" height="2.6" transform="translate(379 0) scale(0.9876 1)"/>
      <rect x="-330" y="134" width="660" height="2.6" transform="translate(379 0) scale(0.9859 1)"/>
      <rect x="-330" y="136" width="660" height="2.6" transform="translate(379 0) scale(0.9840 1)"/>
      <rect x="-330" y="138" width="660" height="2.6" transform="translate(379 0) scale(0.9819 1)"/>
      <rect x="-330" y="140" width="660" height="2.6" transform="translate(379 0) scale(0.9798 1)"/>
      <rect x="-330" y="142" width="660" height="2.6" transform="translate(379 0) scale(0.9775 1)"/>
      <rect x="-330" y="144" width="660" height="2.6" transform="translate(379 0) scale(0.9751 1)"/>
      <rect x="-330" y="146" width="660" height="2.6" transform="translate(379 0) scale(0.9726 1)"/>
      <rect x="-330" y="148" width="660" height="2.6" transform="translate(379 0) scale(0.9700 1)"/>
      <rect x="-330" y="150" width="660" height="2.6" transform="translate(379 0) scale(0.9672 1)"/>
      <rect x="-330" y="152" width="660" height="2.6" transform="translate(379 0) scale(0.9643 1)"/>
      <rect x="-330" y="154" width="660" height="2.6" transform="translate(379 0) scale(0.9613 1)"/>
      <rect x="-330" y="156" width="660" height="2.6" transform="translate(379 0) scale(0.9581 1)"/>
      <rect x="-330" y="158" width="660" height="2.6" transform="translate(379 0) scale(0.9548 1)"/>
      <rect x="-330" y="160" width="660" height="2.6" transform="translate(379 0) scale(0.9514 1)"/>
      <rect x="-330" y="162" width="660" height="2.6" transform="translate(379 0) scale(0.9478 1)"/>
      <rect x="-330" y="164" width="660" height="2.6" transform="translate(379 0) scale(0.9441 1)"/>
      <rect x="-330" y="166" width="660" height="2.6" transform="translate(379 0) scale(0.9402 1)"/>
      <rect x="-330" y="168" width="660" height="2.6" transform="translate(379 0) scale(0.9362 1)"/>
      <rect x="-330" y="170" width="660" height="2.6" transform="translate(379 0) scale(0.9321 1)"/>
      <rect x="-330" y="172" width="660" height="2.6" transform="translate(379 0) scale(0.9278 1)"/>
      <rect x="-330" y="174" width="660" height="2.6" transform="translate(379 0) scale(0.9234 1)"/>
      <rect x="-330" y="176" width="660" height="2.6" transform="translate(379 0) scale(0.9189 1)"/>
      <rect x="-330" y="178" width="660" height="2.6" transform="translate(379 0) scale(0.9141 1)"/>
      <rect x="-330" y="180" width="660" height="2.6" transform="translate(379 0) scale(0.9093 1)"/>
      <rect x="-330" y="182" width="660" height="2.6" transform="translate(379 0) scale(0.9042 1)"/>
      <rect x="-330" y="184" width="660" height="2.6" transform="translate(379 0) scale(0.8991 1)"/>
      <rect x="-330" y="186" width="660" height="2.6" transform="translate(379 0) scale(0.8937 1)"/>
      <rect x="-330" y="188" width="660" height="2.6" transform="translate(379 0) scale(0.8882 1)"/>
      <rect x="-330" y="190" width="660" height="2.6" transform="translate(379 0) scale(0.8825 1)"/>
      <rect x="-330" y="192" width="660" height="2.6" transform="translate(379 0) scale(0.8767 1)"/>
      <rect x="-330" y="194" width="660" height="2.6" transform="translate(379 0) scale(0.8707 1)"/>
      <rect x="-330" y="196" width="660" height="2.6" transform="translate(379 0) scale(0.8645 1)"/>
      <rect x="-330" y="198" width="660" height="2.6" transform="translate(379 0) scale(0.8581 1)"/>
      <rect x="-330" y="200" width="660" height="2.6" transform="translate(379 0) scale(0.8515 1)"/>
      <rect x="-330" y="202" width="660" height="2.6" transform="translate(379 0) scale(0.8448 1)"/>
      <rect x="-330" y="204" width="660" height="2.6" transform="translate(379 0) scale(0.8378 1)"/>
      <rect x="-330" y="206" width="660" height="2.6" transform="translate(379 0) scale(0.8307 1)"/>
      <rect x="-330" y="208" width="660" height="2.6" transform="translate(379 0) scale(0.8233 1)"/>
      <rect x="-330" y="210" width="660" height="2.6" transform="translate(379 0) scale(0.8158 1)"/>
      <rect x="-330" y="212" width="660" height="2.6" transform="translate(379 0) scale(0.8080 1)"/>
      <rect x="-330" y="214" width="660" height="2.6" transform="translate(379 0) scale(0.8000 1)"/>
    </g>
    <!-- white oval tabs -->
    <path d="M123.6 86 C119 83 113 86 111.5 94 C109.8 104 110 122 112 131 C113.5 138.5 119 142.5 124.3 139.5 Z" fill="#f6f6f6"/>
    <path d="M113.2 92 C111.8 104 112 122 113.8 132" stroke="#c9c9c9" stroke-width="2" fill="none" filter="url(#b05)"/>
    <path d="M630.2 85 C634 81 639.5 84 641 92 C642.6 103 642.3 124 640.5 133 C639 141.5 633.5 145.5 629.2 141.5 Z" fill="#f6f6f6"/>
    <path d="M639.6 92 C641 104 640.7 124 639 133" stroke="#c9c9c9" stroke-width="2" fill="none" filter="url(#b05)"/>
  </g>

  <!-- ================= DIMENSION LINES ================= -->
  <g stroke="#2b2b2b" stroke-width="1.4" fill="none">
    <path d="M81.7 14 V220.4 M73.7 14 H89.8 M73.7 220.4 H89.8"/>
    <path d="M138.7 268.6 H621.6 M138.7 260.4 V276.6 M621.6 261 V277.6"/>
  </g>
  <g opacity="0.995">
  <text class="thin" x="10" y="106.6" font-size="21.5" textLength="69.5" lengthAdjust="spacingAndGlyphs">45MM</text>
  <text class="thin" x="17.2" y="168" font-size="21.5" textLength="57" lengthAdjust="spacingAndGlyphs">1.7IN</text>
  <text class="thin" x="305.9" y="307.7" font-size="21.5" textLength="169.5" lengthAdjust="spacingAndGlyphs">105 MM / 4.1 IN</text>
  </g>

  <!-- ================= DOG ================= -->
  <g id="dog">
<g transform="rotate(-58 90 500)" filter="url(#wisp)"><g transform="rotate(58 90 500)">
      <path d="M58.0 422.0 C63.7 415.5 65.7 412.3 70.0 408.0 C74.3 403.7 79.7 400.2 84.0 396.0 C88.3 391.8 91.3 385.5 96.0 383.0 C100.7 380.5 106.3 381.7 112.0 381.0 C117.7 380.3 123.9 379.5 130.0 379.0 C136.1 378.5 142.9 377.8 148.7 378.0 C154.5 378.2 158.9 376.3 165.0 380.0 C171.1 383.7 178.0 392.2 185.0 400.0 C192.0 407.8 198.5 421.0 207.0 427.0 C215.5 433.0 230.0 433.7 236.0 436.0 C242.0 438.3 242.2 438.7 243.0 441.0 C243.8 443.3 244.0 445.8 241.0 450.0 C238.0 454.2 228.2 461.0 225.0 466.0 C221.8 471.0 221.3 474.7 222.0 480.0 C222.7 485.3 228.5 493.7 229.0 498.0 C229.5 502.3 226.8 504.8 225.0 506.0 C223.2 507.2 223.2 504.5 218.0 505.0 C212.8 505.5 201.7 509.5 194.0 509.0 C186.3 508.5 176.8 501.8 172.0 502.0 C167.2 502.2 165.7 506.0 165.0 510.0 C164.3 514.0 168.4 517.3 168.0 526.0 C167.6 534.7 165.2 549.3 162.5 562.0 C159.8 574.7 154.7 591.7 151.6 602.0 C148.5 612.3 150.6 620.0 144.0 624.0 C137.4 628.0 119.8 628.5 112.0 626.0 C104.2 623.5 104.2 616.0 97.5 609.0 C90.8 602.0 80.4 593.0 72.0 584.0 C63.6 575.0 55.4 564.7 47.0 555.0 C38.6 545.3 28.9 535.0 21.7 526.0 C14.5 517.0 4.8 508.2 3.6 501.0 C2.4 493.8 9.0 492.0 14.4 483.0 C19.8 474.0 28.7 457.2 36.0 447.0 C43.3 436.8 52.3 428.5 58.0 422.0 Z" fill="#f7efe4"/>
    </g></g>
    <g transform="rotate(-58 90 500)" filter="url(#streak)"><g transform="rotate(58 90 500)">
      <path d="M58.0 424.0 C64.7 416.3 76.3 404.3 84.0 398.0 C91.7 391.7 93.0 388.3 104.0 386.0 C115.0 383.7 139.0 382.0 150.0 384.0 C161.0 386.0 168.3 392.0 170.0 398.0 C171.7 404.0 167.0 414.3 160.0 420.0 C153.0 425.7 136.0 427.7 128.0 432.0 C120.0 436.3 116.7 439.7 112.0 446.0 C107.3 452.3 104.7 464.7 100.0 470.0 C95.3 475.3 91.3 478.0 84.0 478.0 C76.7 478.0 64.0 472.7 56.0 470.0 C48.0 467.3 38.0 466.3 36.0 462.0 C34.0 457.7 40.3 450.3 44.0 444.0 C47.7 437.7 51.3 431.7 58.0 424.0 Z" fill="#d2b593"/>
      <path d="M118.0 486.0 C120.7 480.7 132.7 475.7 140.0 478.0 C147.3 480.3 157.3 491.3 162.0 500.0 C166.7 508.7 167.8 519.0 168.0 530.0 C168.2 541.0 165.7 553.7 163.0 566.0 C160.3 578.3 156.8 596.3 152.0 604.0 C147.2 611.7 138.3 616.0 134.0 612.0 C129.7 608.0 126.7 592.0 126.0 580.0 C125.3 568.0 130.3 551.7 130.0 540.0 C129.7 528.3 126.0 519.0 124.0 510.0 C122.0 501.0 115.3 491.3 118.0 486.0 Z" fill="#d8bd9c"/>
      <path d="M8.0 496.0 C10.7 488.7 21.3 474.3 30.0 470.0 C38.7 465.7 52.0 466.7 60.0 470.0 C68.0 473.3 76.3 481.7 78.0 490.0 C79.7 498.3 74.3 510.3 70.0 520.0 C65.7 529.7 58.7 545.3 52.0 548.0 C45.3 550.7 36.3 541.7 30.0 536.0 C23.7 530.3 17.7 520.7 14.0 514.0 C10.3 507.3 5.3 503.3 8.0 496.0 Z" fill="#e8d5bd"/>
      <path d="M60.0 545.0 C61.3 536.0 75.7 527.5 84.0 530.0 C92.3 532.5 103.3 548.3 110.0 560.0 C116.7 571.7 122.7 589.7 124.0 600.0 C125.3 610.3 122.0 620.0 118.0 622.0 C114.0 624.0 107.0 618.3 100.0 612.0 C93.0 605.7 82.7 595.2 76.0 584.0 C69.3 572.8 58.7 554.0 60.0 545.0 Z" fill="#e8d6be"/>
      <path d="M100.0 440.0 C102.0 435.3 117.3 430.7 124.0 434.0 C130.7 437.3 135.7 452.3 140.0 460.0 C144.3 467.7 151.3 476.3 150.0 480.0 C148.7 483.7 138.3 485.0 132.0 482.0 C125.7 479.0 117.3 469.0 112.0 462.0 C106.7 455.0 98.0 444.7 100.0 440.0 Z" fill="#dcc4a6"/>
    </g></g>
    <path d="M96.0 384.0 C94.5 381.2 99.3 376.2 101.0 372.0 C102.7 367.8 104.4 362.8 106.0 359.0 C107.6 355.2 109.2 351.4 110.5 349.5 C111.8 347.6 112.6 347.7 114.0 347.3 C115.4 346.9 117.4 347.0 119.0 347.3 C120.6 347.6 122.2 347.4 123.5 349.0 C124.8 350.6 125.8 354.0 127.0 357.0 C128.2 360.0 129.8 363.2 130.5 367.0 C131.2 370.8 131.8 376.5 131.0 380.0 C130.2 383.5 129.5 386.5 126.0 388.0 C122.5 389.5 115.0 389.7 110.0 389.0 C105.0 388.3 97.5 386.8 96.0 384.0 Z" fill="#e2ccb1" filter="url(#b05)"/>
    <path d="M130.5 367.0 C130.7 362.7 132.7 360.1 134.0 357.0 C135.3 353.9 137.2 350.2 138.5 348.5 C139.8 346.8 140.8 347.0 142.0 347.0 C143.2 347.0 144.6 346.7 145.5 348.5 C146.4 350.3 147.0 354.8 147.5 358.0 C148.0 361.2 148.4 364.3 148.7 368.0 C149.0 371.7 150.6 376.8 149.5 380.0 C148.4 383.2 144.8 386.5 142.0 387.0 C139.2 387.5 134.9 386.3 133.0 383.0 C131.1 379.7 130.3 371.3 130.5 367.0 Z" fill="#dcc4a8" filter="url(#b05)"/>
    <path d="M107.0 380.0 C105.5 376.7 109.5 368.5 111.0 364.0 C112.5 359.5 114.3 354.2 116.0 353.0 C117.7 351.8 119.7 354.2 121.0 357.0 C122.3 359.8 124.2 365.5 124.0 370.0 C123.8 374.5 122.8 382.3 120.0 384.0 C117.2 385.7 108.5 383.3 107.0 380.0 Z" fill="#efe2d0" filter="url(#b1)" opacity="0.9"/>
    <path d="M136.0 378.0 C135.8 374.5 137.5 366.2 138.5 362.0 C139.5 357.8 140.9 352.7 142.0 353.0 C143.1 353.3 144.3 359.8 144.8 364.0 C145.3 368.2 145.8 374.8 145.0 378.0 C144.2 381.2 141.5 383.0 140.0 383.0 C138.5 383.0 136.2 381.5 136.0 378.0 Z" fill="#ead9c4" filter="url(#b1)" opacity="0.9"/>
    <path d="M96.0 384.0 C96.8 382.0 99.3 376.2 101.0 372.0 C102.7 367.8 104.4 362.8 106.0 359.0 C107.6 355.2 109.2 351.4 110.5 349.5 C111.8 347.6 112.6 347.7 114.0 347.3 C115.4 346.9 117.4 347.0 119.0 347.3 C120.6 347.6 122.2 347.4 123.5 349.0 C124.8 350.6 125.8 354.0 127.0 357.0 C128.2 360.0 129.9 365.3 130.5 367.0" fill="none" stroke="#8f6f55" stroke-width="1.0" filter="url(#b05)" opacity="0.85"/>
    <path d="M130.5 367.0 C131.1 365.3 132.7 360.1 134.0 357.0 C135.3 353.9 137.2 350.2 138.5 348.5 C139.8 346.8 140.8 347.0 142.0 347.0 C143.2 347.0 144.6 346.7 145.5 348.5 C146.4 350.3 147.0 354.8 147.5 358.0 C148.0 361.2 148.4 364.3 148.7 368.0 C149.0 371.7 149.4 378.0 149.5 380.0" fill="none" stroke="#8f6f55" stroke-width="1.0" filter="url(#b05)" opacity="0.85"/>
    <path d="M105 378 L111 358 M109 382 L116 356 M114 384 L120 360 M127 380 L123 362 M124 386 L126 372 M135 378 L139 356 M139 382 L143 358 M146 378 L145 362" stroke="#9c7c60" stroke-width="0.9" fill="none" opacity="0.7" filter="url(#b05)"/>
    <path d="M74.0 466.0 C75.3 460.0 86.7 451.7 94.0 452.0 C101.3 452.3 110.3 460.7 118.0 468.0 C125.7 475.3 135.0 488.0 140.0 496.0 C145.0 504.0 149.7 511.7 148.0 516.0 C146.3 520.3 137.0 524.0 130.0 522.0 C123.0 520.0 113.3 509.7 106.0 504.0 C98.7 498.3 91.3 494.3 86.0 488.0 C80.7 481.7 72.7 472.0 74.0 466.0 Z" fill="#ffffff" filter="url(#b3)" opacity="0.85"/>
    <path d="M44.0 520.0 C45.7 515.3 57.3 509.3 66.0 512.0 C74.7 514.7 87.7 526.3 96.0 536.0 C104.3 545.7 114.7 563.0 116.0 570.0 C117.3 577.0 110.3 579.7 104.0 578.0 C97.7 576.3 86.0 566.3 78.0 560.0 C70.0 553.7 61.7 546.7 56.0 540.0 C50.3 533.3 42.3 524.7 44.0 520.0 Z" fill="#ffffff" filter="url(#b4)" opacity="0.7"/>
    <path d="M194.0 430.0 C197.7 426.0 203.3 427.7 208.0 428.0 C212.7 428.3 217.8 430.8 222.0 432.0 C226.2 433.2 229.8 433.7 233.0 435.0 C236.2 436.3 239.3 438.0 241.0 440.0 C242.7 442.0 243.5 444.8 243.0 447.0 C242.5 449.2 239.7 450.8 238.0 453.0 C236.3 455.2 235.3 457.8 233.0 460.0 C230.7 462.2 228.2 464.5 224.0 466.0 C219.8 467.5 213.0 469.0 208.0 469.0 C203.0 469.0 197.7 468.8 194.0 466.0 C190.3 463.2 186.0 458.0 186.0 452.0 C186.0 446.0 190.3 434.0 194.0 430.0 Z" fill="#f8f2ea" filter="url(#b05)"/>
    <path d="M200.0 440.0 C202.3 436.3 209.7 437.3 214.0 438.0 C218.3 438.7 224.3 441.0 226.0 444.0 C227.7 447.0 226.3 453.0 224.0 456.0 C221.7 459.0 216.0 461.3 212.0 462.0 C208.0 462.7 202.0 463.7 200.0 460.0 C198.0 456.3 197.7 443.7 200.0 440.0 Z" fill="#ead9c3" filter="url(#b2)" opacity="0.8"/>
    <g fill="#7a5a42" opacity="0.8" filter="url(#b05)"><circle cx="212" cy="447" r="0.9"/><circle cx="217" cy="451" r="0.9"/><circle cx="222" cy="447" r="0.8"/><circle cx="226" cy="452" r="0.9"/><circle cx="215" cy="456" r="0.8"/><circle cx="221" cy="458" r="0.8"/><circle cx="209" cy="453" r="0.8"/><circle cx="229" cy="446" r="0.8"/><circle cx="206" cy="460" r="0.8"/><circle cx="213" cy="441" r="0.8"/><circle cx="219" cy="443" r="0.8"/><circle cx="224" cy="462" r="0.8"/></g>
    <path d="M206.0 427.5 C208.0 428.0 213.8 429.4 218.0 430.5 C222.2 431.6 228.0 433.1 231.0 434.0 C234.0 434.9 235.2 435.7 236.0 436.0" fill="none" stroke="#5c4030" stroke-width="1.2" filter="url(#b05)" opacity="0.85"/>
    <path d="M240.0 449.0 C239.0 450.8 236.7 456.7 234.0 459.5 C231.3 462.3 228.2 464.4 224.0 466.0 C219.8 467.6 213.7 468.6 209.0 468.8 C204.3 469.0 198.2 467.3 196.0 467.0" fill="none" stroke="#6e4e3a" stroke-width="1.4" filter="url(#b05)" opacity="0.85"/>
    <path d="M165.0 462.0 C166.0 458.2 171.5 458.7 176.0 459.0 C180.5 459.3 187.0 461.5 192.0 464.0 C197.0 466.5 202.5 470.0 206.0 474.0 C209.5 478.0 212.3 484.2 213.0 488.0 C213.7 491.8 212.5 495.3 210.0 497.0 C207.5 498.7 202.7 498.8 198.0 498.0 C193.3 497.2 186.7 494.7 182.0 492.0 C177.3 489.3 172.8 487.0 170.0 482.0 C167.2 477.0 164.0 465.8 165.0 462.0 Z" fill="#3a2722" filter="url(#b05)"/>
    <path d="M170.0 461.0 C172.0 459.8 179.3 459.0 184.0 460.0 C188.7 461.0 193.7 464.0 198.0 467.0 C202.3 470.0 206.0 474.5 210.0 478.0 C214.0 481.5 218.8 484.8 222.0 488.0 C225.2 491.2 227.8 494.3 229.0 497.0 C230.2 499.7 230.0 502.3 229.0 504.0 C228.0 505.7 225.2 507.2 223.0 507.0 C220.8 506.8 218.2 505.2 216.0 503.0 C213.8 500.8 212.7 497.2 210.0 494.0 C207.3 490.8 204.0 487.3 200.0 484.0 C196.0 480.7 190.7 476.8 186.0 474.0 C181.3 471.2 174.7 469.2 172.0 467.0 C169.3 464.8 168.0 462.2 170.0 461.0 Z" fill="#e6a5a8" filter="url(#b05)"/>
    <path d="M176.0 464.0 C178.7 465.0 187.0 467.0 192.0 470.0 C197.0 473.0 201.7 477.7 206.0 482.0 C210.3 486.3 216.0 493.7 218.0 496.0" fill="none" stroke="#b36a70" stroke-width="1.1" filter="url(#b05)" opacity="0.7"/>
    <path d="M216.0 503.0 C217.2 503.7 220.8 506.8 223.0 507.0 C225.2 507.2 228.0 505.7 229.0 504.0 C230.0 502.3 230.2 499.7 229.0 497.0 C227.8 494.3 223.2 489.5 222.0 488.0" fill="none" stroke="#7a4a4a" stroke-width="1.0" filter="url(#b05)" opacity="0.7"/>
    <g fill="#f8f2e8" filter="url(#b05)"><circle cx="170" cy="470" r="1.8"/><circle cx="175" cy="473" r="1.9"/><circle cx="180.5" cy="475" r="1.9"/><circle cx="186" cy="477" r="1.8"/><circle cx="191" cy="479" r="1.6"/><circle cx="174" cy="482" r="1.6"/><circle cx="179" cy="485" r="1.7"/><circle cx="184.5" cy="487" r="1.7"/><circle cx="190" cy="489" r="1.6"/><circle cx="195.5" cy="490.5" r="1.5"/></g>
    <path d="M168.0 488.0 C169.7 487.3 177.0 493.8 182.0 496.0 C187.0 498.2 192.7 500.5 198.0 501.0 C203.3 501.5 210.7 498.7 214.0 499.0 C217.3 499.3 219.3 501.3 218.0 503.0 C216.7 504.7 211.0 508.2 206.0 509.0 C201.0 509.8 193.7 509.5 188.0 508.0 C182.3 506.5 175.3 503.3 172.0 500.0 C168.7 496.7 166.3 488.7 168.0 488.0 Z" fill="#f3eadd" filter="url(#b05)"/>
    <path d="M170.0 499.0 C172.7 500.4 180.3 505.8 186.0 507.5 C191.7 509.2 198.8 510.1 204.0 509.5 C209.2 508.9 214.8 504.9 217.0 504.0" fill="none" stroke="#7a5a44" stroke-width="1.1" filter="url(#b05)" opacity="0.75"/>
    <path d="M232.0 435.5 C233.2 434.6 236.2 433.6 238.0 433.8 C239.8 434.0 241.9 435.1 243.0 436.5 C244.1 437.9 244.6 440.2 244.3 442.0 C244.1 443.8 242.9 446.1 241.5 447.0 C240.1 447.9 237.5 448.0 236.0 447.5 C234.5 447.0 233.1 445.3 232.3 444.0 C231.5 442.7 231.1 440.9 231.0 439.5 C230.9 438.1 230.8 436.4 232.0 435.5 Z" fill="#2e1c18" filter="url(#b05)"/>
    <path d="M235.5 438.0 C236.1 437.4 237.8 437.2 238.5 437.5 C239.2 437.8 240.2 439.2 240.0 440.0 C239.8 440.8 238.3 441.8 237.5 442.0 C236.7 442.2 235.3 441.7 235.0 441.0 C234.7 440.3 234.9 438.6 235.5 438.0 Z" fill="#8a6a60" filter="url(#b05)" opacity="0.8"/>
    <path d="M177.7 375.4 C181.4 375.7 184.1 379.9 187.0 383.0 C189.9 386.1 192.5 389.8 195.0 394.0 C197.5 398.2 200.0 403.3 202.0 408.0 C204.0 412.7 206.0 418.2 207.0 422.0 C208.0 425.8 208.3 428.0 208.0 431.0 C207.7 434.0 207.7 437.8 205.0 440.0 C202.3 442.2 197.3 443.0 192.0 444.0 C186.7 445.0 178.8 445.8 173.0 446.0 C167.2 446.2 161.5 446.5 157.0 445.0 C152.5 443.5 148.8 440.3 146.0 437.0 C143.2 433.7 141.7 429.8 140.0 425.0 C138.3 420.2 135.8 412.7 136.0 408.0 C136.2 403.3 138.3 400.2 141.0 397.0 C143.7 393.8 148.0 391.7 152.0 389.0 C156.0 386.3 160.7 383.3 165.0 381.0 C169.3 378.7 174.0 375.1 177.7 375.4 Z" fill="#ffffff" stroke="#a9a9a9" stroke-width="0.9"/>
    <path d="M176.0 378.0 C175.0 380.3 172.7 386.3 170.0 392.0 C167.3 397.7 162.3 405.7 160.0 412.0 C157.7 418.3 156.3 424.7 156.0 430.0 C155.7 435.3 157.7 441.7 158.0 444.0" fill="none" stroke="#b5b5b5" stroke-width="0.9"/>
    <path d="M141.0 400.0 C142.5 399.7 146.8 399.3 150.0 398.0 C153.2 396.7 157.0 394.3 160.0 392.0 C163.0 389.7 166.7 385.3 168.0 384.0" fill="none" stroke="#9a9a9a" stroke-width="0.9"/>
    <path d="M146.0 404.0 C145.8 406.0 144.5 411.7 145.0 416.0 C145.5 420.3 147.2 426.0 149.0 430.0 C150.8 434.0 154.8 438.3 156.0 440.0" fill="none" stroke="#9a9a9a" stroke-width="0.9"/>
    <path d="M147 408 L156 405 M148 413 L157 410 M149 418 L158 415 M150 423 L158 421 M152 428 L159 426 M154 433 L160 431" stroke="#555" stroke-width="1.3" fill="none"/>
    <path d="M139.0 404.0 C139.3 406.3 139.8 413.3 141.0 418.0 C142.2 422.7 143.8 428.0 146.0 432.0 C148.2 436.0 152.7 440.3 154.0 442.0" fill="none" stroke="#8a8a8a" stroke-width="1.6" filter="url(#b05)" opacity="0.8"/>
    <path d="M70.0 406.0 C71.7 407.7 76.3 413.3 80.0 416.0 C83.7 418.7 87.3 420.0 92.0 422.0 C96.7 424.0 102.7 426.6 108.0 428.0 C113.3 429.4 118.7 430.7 124.0 430.5 C129.3 430.3 134.7 429.1 140.0 427.0 C145.3 424.9 153.3 419.5 156.0 418.0" fill="none" stroke="#1c1c1c" stroke-width="6"/>
    <path d="M122.0 426.0 C123.0 428.7 125.7 436.3 128.0 442.0 C130.3 447.7 133.0 454.0 136.0 460.0 C139.0 466.0 143.2 472.7 146.0 478.0 C148.8 483.3 151.2 487.3 153.0 492.0 C154.8 496.7 156.3 503.7 157.0 506.0" fill="none" stroke="#1c1c1c" stroke-width="7.4"/>
    <path d="M166.0 446.0 C164.7 448.0 160.5 454.3 158.0 458.0 C155.5 461.7 152.8 464.7 151.0 468.0 C149.2 471.3 147.7 476.3 147.0 478.0" fill="none" stroke="#1c1c1c" stroke-width="4"/>
    <path d="M124.0 428.0 C125.0 430.7 127.7 438.3 130.0 444.0 C132.3 449.7 135.0 456.0 138.0 462.0 C141.0 468.0 145.3 474.7 148.0 480.0 C150.7 485.3 152.5 489.3 154.0 494.0 C155.5 498.7 156.5 505.7 157.0 508.0" fill="none" stroke="#ffffff" stroke-width="0.8" opacity="0.9" stroke-dasharray="1 1.6" transform="translate(-5 0.5)"/>
    <path d="M124.0 428.0 C125.0 430.7 127.7 438.3 130.0 444.0 C132.3 449.7 135.0 456.0 138.0 462.0 C141.0 468.0 145.3 474.7 148.0 480.0 C150.7 485.3 152.5 489.3 154.0 494.0 C155.5 498.7 156.5 505.7 157.0 508.0" fill="none" stroke="#ffffff" stroke-width="0.8" opacity="0.9" stroke-dasharray="1 1.6" transform="translate(2.6 -2)"/>
  </g>

  <!-- ================= MEASUREMENT ELLIPSES ================= -->
  <g stroke-linecap="butt">
    <path d="M169.0 394.4 A55 17.2 0 1 1 79.8 388.4" fill="none" stroke="#1ea83c" stroke-width="6.4"/>
    <path d="M87.0 386.6 A55 17.2 0 0 1 101.0 384.4" fill="none" stroke="#1ea83c" stroke-width="5.6"/>
    <path d="M105.0 384.1 A55 17.2 0 0 1 122.0 383.6" fill="none" stroke="#1ea83c" stroke-width="5.6"/>
    <path d="M128.0 383.9 A55 17.2 0 0 1 147.0 386.2" fill="none" stroke="#1ea83c" stroke-width="5.6"/>
    <path d="M156.0 388.4 A55 17.2 0 0 1 162.0 390.5" fill="none" stroke="#1ea83c" stroke-width="5.6"/>
    <path d="M180.1 511.3 A22.6 48.3 2.5 1 1 193.2 420.1" fill="none" stroke="#ea2428" stroke-width="9"/>
    <path d="M197.1 425.8 A22.6 48.3 2.5 0 1 199.5 431.1" fill="none" stroke="#ea2428" stroke-width="6.4"/>
    <path d="M201.0 435.8 A22.6 48.3 2.5 0 1 203.3 447.0" fill="none" stroke="#ea2428" stroke-width="6.4"/>
    <path d="M203.9 453.1 A22.6 48.3 2.5 0 1 203.8 466.5" fill="none" stroke="#ea2428" stroke-width="6.4"/>
    <path d="M203.2 472.8 A22.6 48.3 2.5 0 1 200.9 484.7" fill="none" stroke="#ea2428" stroke-width="6.4"/>
    <path d="M199.4 489.4 A22.6 48.3 2.5 0 1 194.3 500.6" fill="none" stroke="#ea2428" stroke-width="6.4"/>
    <path d="M189.8 506.4 A22.6 48.3 2.5 0 1 183.6 510.6" fill="none" stroke="#ea2428" stroke-width="6.4"/>
  </g>
  <!-- arrows -->
  <path fill="#1ea83c" d="M174 392.3 L262 407.5 L256.8 399 L303 419 L252.8 422.5 L261 413 L173 397.7 Z"/>
  <path fill="#ea2428" d="M206.8 482.8 L285 500 L280.6 492 L320.4 510 L276.6 512.4 L284 505.2 L206 487.8 Z"/>

  <!-- ================= LABELS ================= -->
  <g class="bold" font-size="27" stroke-width="1.0" stroke-linejoin="round" opacity="0.995">
    <g fill="#1ea83c" stroke="#1ea83c">
      <text transform="translate(313.5 435.3) skewX(-4)" textLength="291.5" lengthAdjust="spacingAndGlyphs">Head circumference</text>
      <text transform="translate(403 470.2) skewX(-4)" font-size="27.5" textLength="16.5" lengthAdjust="spacingAndGlyphs">7</text>
      <path d="M423.2 450.8 h2.8 l-0.6 7 h-2 Z M427.8 450.8 h2.8 l-0.6 7 h-2 Z" stroke-width="0.4"/>
      <rect x="432.2" y="461.3" width="24.8" height="3.6" stroke="none"/>
      <text transform="translate(470 470.2) skewX(-4)" font-size="27.5" textLength="31" lengthAdjust="spacingAndGlyphs">13</text>
      <path d="M506 450.8 h2.8 l-0.6 7 h-2 Z M510.6 450.8 h2.8 l-0.6 7 h-2 Z" stroke-width="0.4"/>
    </g>
    <g fill="#ea2428" stroke="#ea2428">
      <text transform="translate(332.7 510.6) skewX(-4)" textLength="270.5" lengthAdjust="spacingAndGlyphs">The circumference</text>
      <text transform="translate(296.8 544.8) skewX(-4)" textLength="351" lengthAdjust="spacingAndGlyphs">of a dog's nose and chin</text>
      <text transform="translate(402.6 586.3) skewX(-4)" font-size="27.5" textLength="19.5" lengthAdjust="spacingAndGlyphs">8</text>
      <path d="M425.3 567 h3 l-2.7 7 h-1.9 Z M430.1 567 h3 l-2.7 7 h-1.9 Z" stroke-width="0.4"/>
      <rect x="435.2" y="576.5" width="24" height="3.7" stroke="none"/>
      <text transform="translate(469.5 586.3) skewX(-4)" font-size="27.5" textLength="34.5" lengthAdjust="spacingAndGlyphs">15</text>
      <path d="M508.5 567 h3 l-2.7 7 h-1.9 Z M513.6 567 h3 l-2.7 7 h-1.9 Z" stroke-width="0.4"/>
    </g>
  </g>
</svg>
</body>
</html>
